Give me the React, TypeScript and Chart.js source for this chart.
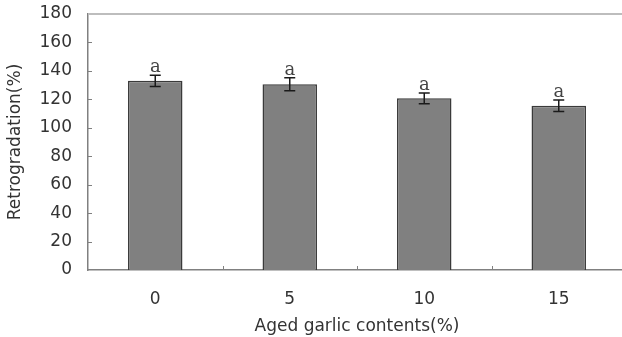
import React, { useEffect, useRef } from "react";
import { Chart, registerables } from "chart.js";

Chart.register(...registerables);

const categories = ["0", "5", "10", "15"];
const retrogradation = [133, 130.6, 120.7, 115.5];
const errors = [3.9, 4.5, 3.8, 4.0];
const letters = ["a", "a", "a", "a"];
const yTicks = [0, 20, 40, 60, 80, 100, 120, 140, 160, 180];

const TEXT = "#333333";
const FONT = "'DejaVu Sans', sans-serif";

const decorPlugin = {
  id: "decor",
  afterDatasetsDraw(chart: any) {
    const ctx = chart.ctx;
    const x = chart.scales.x;
    const y = chart.scales.y;
    const area = chart.chartArea;
    ctx.save();
    // top frame line
    ctx.strokeStyle = "#bdbdbd";
    ctx.lineWidth = 2;
    const yTop = Math.round(y.getPixelForValue(yTicks[yTicks.length - 1]));
    ctx.beginPath();
    ctx.moveTo(area.left, yTop);
    ctx.lineTo(area.right + 10, yTop);
    ctx.stroke();
    // inner y ticks
    ctx.strokeStyle = "#808080";
    ctx.lineWidth = 1;
    yTicks.forEach((v) => {
      if (v === 0 || v === yTicks[yTicks.length - 1]) return;
      const py = Math.round(y.getPixelForValue(v)) + 0.5;
      ctx.beginPath();
      ctx.moveTo(area.left, py);
      ctx.lineTo(area.left + 4, py);
      ctx.stroke();
    });
    // inner x ticks between categories
    for (let i = 0; i < categories.length - 1; i++) {
      const px = Math.round((x.getPixelForValue(i) + x.getPixelForValue(i + 1)) / 2) + 0.5;
      ctx.beginPath();
      ctx.moveTo(px, area.bottom);
      ctx.lineTo(px, area.bottom - 4);
      ctx.stroke();
    }
    // error bars and letters
    ctx.strokeStyle = "#1a1a1a";
    ctx.lineWidth = 1.5;
    retrogradation.forEach((v, i) => {
      const px = x.getPixelForValue(i);
      const hi = y.getPixelForValue(v + errors[i]);
      const lo = y.getPixelForValue(v - errors[i]);
      ctx.beginPath();
      ctx.moveTo(px, hi);
      ctx.lineTo(px, lo);
      ctx.moveTo(px - 5.5, hi);
      ctx.lineTo(px + 5.5, hi);
      ctx.moveTo(px - 5.5, lo);
      ctx.lineTo(px + 5.5, lo);
      ctx.stroke();
      ctx.fillStyle = "#444444";
      ctx.font = "18px 'DejaVu Serif', serif";
      ctx.textAlign = "center";
      ctx.textBaseline = "alphabetic";
      ctx.fillText(letters[i], px, hi - 3);
    });
    ctx.restore();
  },
};

export default function App() {
  const ref = useRef<HTMLCanvasElement>(null);
  useEffect(() => {
    if (!ref.current) return;
    const chart = new Chart(ref.current, {
      type: "bar",
      data: {
        labels: categories,
        datasets: [
          {
            data: retrogradation,
            backgroundColor: "#808080",
            borderColor: "#3a3a3a",
            borderWidth: 1.5,
            categoryPercentage: 1,
            barPercentage: 0.405,
          },
        ],
      },
      options: {
        responsive: false,
        animation: false,
        devicePixelRatio: 1,
        layout: { padding: { top: 14, right: 4, left: 0, bottom: 0 } },
        plugins: { legend: { display: false }, tooltip: { enabled: false } },
        scales: {
          x: {
            grid: { display: false, drawTicks: false },
            border: { display: true, color: "#808080", width: 1.5 },
            ticks: { color: TEXT, font: { family: FONT, size: 17 }, padding: 19 },
            title: {
              display: true,
              text: "Aged garlic contents(%)",
              color: TEXT,
              font: { family: FONT, size: 17 },
              padding: { top: 0, bottom: 0 },
            },
            afterFit: (s: any) => {
              s.height = 67;
              s.paddingLeft = 0;
              s.paddingRight = 0;
            },
          },
          y: {
            min: 0,
            max: 180,
            grid: { display: false, drawTicks: false },
            border: { display: true, color: "#808080", width: 1.5 },
            ticks: {
              stepSize: 20,
              color: TEXT,
              font: { family: FONT, size: 17 },
              padding: 16,
            },
            title: {
              display: true,
              text: "Retrogradation(%)",
              color: TEXT,
              font: { family: FONT, size: 17 },
              padding: { top: 5, bottom: 5 },
            },
            afterFit: (s: any) => {
              s.width = 88;
              s.paddingTop = 0;
              s.paddingBottom = 0;
            },
          },
        },
      },
      plugins: [decorPlugin],
    });
    return () => chart.destroy();
  }, []);
  return (
    <div
      style={{
        position: "absolute",
        left: 0,
        top: 0,
        width: 622,
        height: 337,
        overflow: "hidden",
        background: "#fff",
      }}
    >
      <canvas ref={ref} width={630} height={337} style={{ width: 630, height: 337, display: "block" }} />
    </div>
  );
}
